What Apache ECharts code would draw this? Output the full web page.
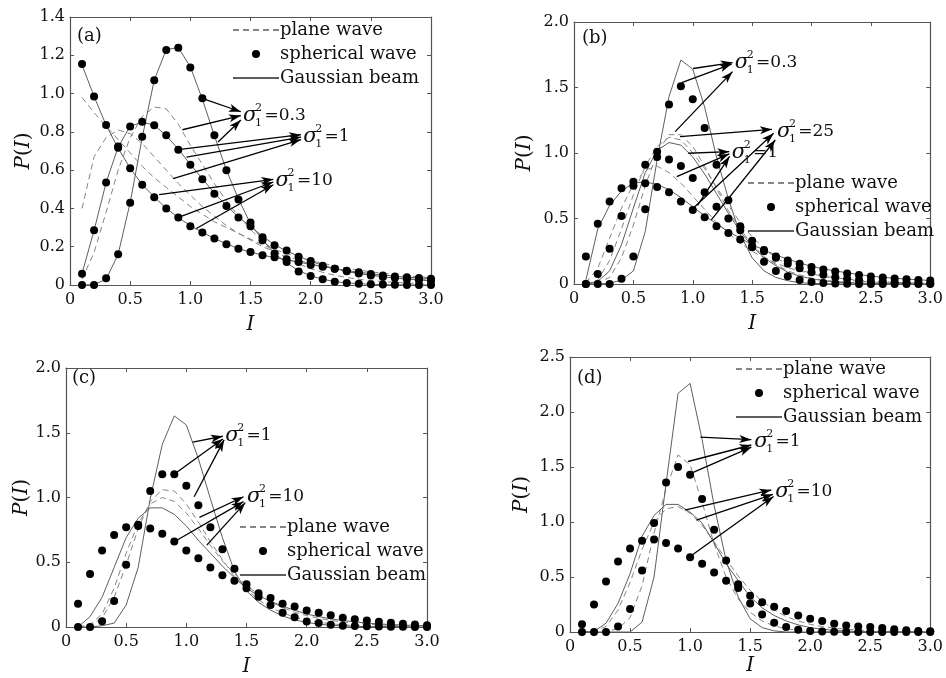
<!DOCTYPE html>
<html><head><meta charset="utf-8">
<script src="https://cdn.jsdelivr.net/npm/echarts@6.0.0/dist/echarts.min.js"></script>
<style>html,body{margin:0;padding:0;background:#fff}#c{width:946px;height:678px}</style>
</head><body><div id="c"></div>
<script>
// ---------- data ----------
const xs = [0.1,0.2,0.3,0.4,0.5,0.6,0.7,0.8,0.9,1.0,1.1,1.2,1.3,1.4,1.5,1.6,1.7,1.8,1.9,2.0,2.1,2.2,2.3,2.4,2.5,2.6,2.7,2.8,2.9,3.0];
const legendNames = ['plane wave','spherical wave','Gaussian beam'];

// (a) sigma^2 = 0.3, 1, 10
const aPlane03 = [0.03,0.17,0.38,0.6,0.77,0.88,0.93,0.92,0.84,0.73,0.63,0.53,0.44,0.36,0.29,0.23,0.18,0.14,0.11,0.085,0.066,0.051,0.039,0.03,0.023,0.018,0.014,0.011,0.008,0.006];
const aPlane1  = [0.40,0.67,0.77,0.81,0.79,0.74,0.67,0.60,0.53,0.47,0.41,0.36,0.31,0.27,0.235,0.2,0.175,0.15,0.13,0.11,0.095,0.082,0.07,0.06,0.052,0.045,0.039,0.033,0.029,0.025];
const aPlane10 = [0.98,0.9,0.83,0.76,0.69,0.62,0.56,0.51,0.46,0.41,0.37,0.33,0.30,0.27,0.24,0.21,0.185,0.165,0.145,0.128,0.113,0.1,0.088,0.078,0.069,0.061,0.054,0.048,0.043,0.038];
const aSph03 = [0,0,0.035,0.16,0.43,0.775,1.07,1.228,1.239,1.136,0.975,0.782,0.60,0.446,0.326,0.234,0.165,0.12,0.07,0.047,0.03,0.017,0.01,0.006,0.004,0.002,0.001,0,0,0];
const aSph1  = [0.059,0.286,0.536,0.723,0.828,0.853,0.834,0.782,0.706,0.628,0.553,0.477,0.413,0.352,0.307,0.25,0.208,0.18,0.148,0.125,0.10,0.085,0.072,0.06,0.05,0.042,0.036,0.03,0.025,0.021];
const aSph10 = [1.154,0.985,0.836,0.717,0.61,0.524,0.458,0.40,0.352,0.307,0.274,0.243,0.213,0.19,0.172,0.155,0.145,0.135,0.12,0.105,0.095,0.085,0.075,0.066,0.058,0.05,0.045,0.04,0.036,0.033];
const aGau03 = [0,0.002,0.03,0.16,0.43,0.77,1.07,1.23,1.24,1.14,0.97,0.78,0.60,0.45,0.32,0.235,0.165,0.115,0.075,0.048,0.03,0.018,0.011,0.007,0.004,0.002,0.001,0.001,0,0];
const aGau1  = [0.06,0.285,0.535,0.72,0.83,0.85,0.835,0.78,0.71,0.63,0.555,0.48,0.415,0.355,0.305,0.255,0.21,0.178,0.15,0.124,0.103,0.086,0.072,0.06,0.051,0.043,0.036,0.031,0.026,0.022];
const aGau10 = [1.15,0.985,0.835,0.715,0.61,0.525,0.46,0.40,0.352,0.31,0.275,0.243,0.215,0.19,0.172,0.156,0.143,0.132,0.12,0.107,0.096,0.086,0.076,0.067,0.059,0.052,0.046,0.041,0.037,0.033];

// (b) sigma^2 = 0.3, 1, 25
const bPlane03 = [0,0.01,0.05,0.2,0.45,0.75,1.0,1.14,1.14,1.05,0.9,0.73,0.56,0.42,0.3,0.21,0.15,0.1,0.07,0.045,0.03,0.02,0.013,0.008,0.005,0.003,0.002,0.001,0,0];
const bPlane1  = [0.01,0.12,0.35,0.58,0.76,0.87,0.9,0.85,0.77,0.67,0.57,0.47,0.39,0.31,0.25,0.2,0.16,0.125,0.1,0.078,0.061,0.048,0.037,0.029,0.022,0.017,0.013,0.01,0.008,0.006];
const bPlane25 = [0,0.03,0.18,0.42,0.68,0.9,1.05,1.12,1.1,1.0,0.88,0.74,0.6,0.47,0.36,0.27,0.2,0.15,0.11,0.08,0.058,0.042,0.03,0.021,0.015,0.011,0.008,0.005,0.004,0.003];
const bSph03 = [0,0,0,0.04,0.21,0.57,1.01,1.37,1.51,1.41,1.19,0.91,0.64,0.44,0.28,0.17,0.1,0.06,0.03,0.015,0.007,0.003,0.001,0,0,0,0,0,0,0];
const bSph1  = [0,0.076,0.27,0.52,0.75,0.91,0.97,0.95,0.9,0.81,0.70,0.59,0.50,0.41,0.33,0.26,0.2,0.155,0.12,0.09,0.07,0.052,0.04,0.03,0.022,0.017,0.013,0.01,0.007,0.005];
const bSph25 = [0.21,0.46,0.63,0.73,0.78,0.77,0.74,0.70,0.63,0.565,0.51,0.44,0.39,0.34,0.29,0.25,0.21,0.18,0.155,0.13,0.11,0.095,0.08,0.068,0.058,0.05,0.042,0.036,0.03,0.026];
const bGau03 = [0,0,0.005,0.03,0.1,0.4,0.95,1.43,1.71,1.64,1.35,0.97,0.65,0.38,0.2,0.1,0.05,0.025,0.01,0.005,0.002,0.001,0,0,0,0,0,0,0,0];
const bGau1  = [0,0.02,0.1,0.3,0.58,0.85,1.02,1.08,1.06,0.97,0.84,0.69,0.54,0.4,0.29,0.2,0.14,0.09,0.06,0.04,0.025,0.016,0.01,0.006,0.004,0.002,0.001,0,0,0];
const bGau25 = [0.03,0.42,0.6,0.71,0.77,0.78,0.76,0.72,0.66,0.59,0.52,0.46,0.40,0.35,0.30,0.26,0.22,0.19,0.16,0.135,0.115,0.1,0.085,0.072,0.06,0.051,0.044,0.037,0.032,0.027];

// (c) sigma^2 = 1, 10
const cPlane1  = [0,0.01,0.07,0.23,0.48,0.76,0.97,1.06,1.05,0.95,0.81,0.66,0.52,0.39,0.29,0.21,0.15,0.11,0.075,0.052,0.036,0.025,0.017,0.012,0.008,0.005,0.004,0.003,0.002,0.001];
const cPlane10 = [0,0.02,0.1,0.3,0.57,0.8,0.95,1.0,0.97,0.88,0.76,0.63,0.51,0.41,0.32,0.25,0.195,0.15,0.115,0.088,0.067,0.051,0.039,0.03,0.023,0.017,0.013,0.01,0.008,0.006];
const cSph1  = [0,0,0.045,0.2,0.48,0.78,1.05,1.18,1.18,1.09,0.94,0.77,0.6,0.45,0.33,0.234,0.17,0.11,0.076,0.043,0.03,0.018,0.01,0.008,0.005,0.003,0.002,0.001,0,0];
const cSph10 = [0.18,0.41,0.59,0.71,0.77,0.79,0.76,0.72,0.66,0.59,0.53,0.46,0.40,0.357,0.30,0.26,0.224,0.18,0.158,0.127,0.11,0.09,0.071,0.059,0.051,0.041,0.033,0.025,0.02,0.013];
const cGau1  = [0,0,0.01,0.03,0.17,0.46,0.99,1.41,1.63,1.56,1.3,0.99,0.69,0.43,0.28,0.19,0.13,0.085,0.055,0.035,0.022,0.013,0.008,0.005,0.003,0.002,0.001,0,0,0];
const cGau10 = [0,0.08,0.23,0.46,0.69,0.84,0.92,0.92,0.87,0.78,0.67,0.57,0.47,0.38,0.30,0.24,0.2,0.16,0.13,0.1,0.08,0.063,0.05,0.04,0.03,0.024,0.019,0.015,0.012,0.01];

// (d) sigma^2 = 1, 10
const dPlane1  = [0,0,0.005,0.03,0.13,0.42,0.9,1.3,1.61,1.52,1.18,0.8,0.5,0.3,0.18,0.1,0.055,0.03,0.015,0.008,0.004,0.002,0.001,0,0,0,0,0,0,0];
const dPlane10 = [0,0.01,0.05,0.2,0.45,0.75,1.0,1.12,1.14,1.08,0.97,0.82,0.66,0.51,0.38,0.28,0.2,0.14,0.1,0.07,0.05,0.035,0.025,0.018,0.012,0.008,0.006,0.004,0.003,0.002];
const dSph1  = [0,0,0,0.05,0.21,0.56,0.99,1.36,1.5,1.43,1.21,0.93,0.65,0.435,0.26,0.16,0.085,0.045,0.02,0.01,0.004,0.002,0.001,0,0,0,0,0,0,0];
const dSph10 = [0.07,0.25,0.46,0.64,0.76,0.83,0.84,0.81,0.76,0.68,0.62,0.54,0.465,0.4,0.33,0.27,0.23,0.19,0.15,0.12,0.1,0.076,0.06,0.05,0.045,0.036,0.025,0.015,0.01,0.006];
const dGau1  = [0,0,0,0,0,0.09,0.5,1.35,2.17,2.26,1.75,1.15,0.65,0.32,0.12,0.04,0.01,0,0,0,0,0,0,0,0,0,0,0,0,0];
const dGau10 = [0,0.005,0.08,0.26,0.53,0.87,1.06,1.16,1.16,1.09,0.99,0.81,0.62,0.47,0.32,0.22,0.15,0.1,0.065,0.04,0.025,0.015,0.008,0.004,0.002,0.001,0,0,0,0];

// ---------- layout / annotations ----------
const SERIF = "'DejaVu Serif', serif";
const panels = [
  { grid:{left:70, top:17, width:361, height:268}, yMax:1.4, yInt:0.2, tag:'(a)', tagPos:[77,27], legendPos:[232,21], yGap:36, xGap:30,
    groups:[[aPlane03,aSph03,aGau03],[aPlane1,aSph1,aGau1],[aPlane10,aSph10,aGau10]],
    notes:[['0.3',1.43,0.885],['1',1.93,0.773],['10',1.70,0.545]],
    arrows:[[1.11,0.972,1.42,0.905],[0.934,0.811,1.42,0.885],[1.23,0.747,1.42,0.862],
            [0.9,0.707,1.92,0.785],[0.968,0.668,1.92,0.773],[0.857,0.556,1.92,0.76],
            [0.741,0.472,1.69,0.552],[0.912,0.356,1.69,0.538],[1.05,0.295,1.69,0.524]] },
  { grid:{left:574, top:22, width:362, height:262}, yMax:2.0, yInt:0.5, tag:'(b)', tagPos:[582,29], legendPos:[747,174], yGap:39, xGap:30,
    groups:[[bPlane03,bSph03,bGau03],[bPlane1,bSph1,bGau1],[bPlane25,bSph25,bGau25]],
    notes:[['0.3',1.345,1.687],['25',1.70,1.163],['1',1.32,1.0]],
    arrows:[[1.003,1.645,1.335,1.69],[0.907,1.537,1.327,1.679],[0.852,1.163,1.335,1.621],
            [0.893,1.125,1.667,1.181],[1.003,0.578,1.681,1.15],[1.156,0.489,1.695,1.099],
            [0.962,0.998,1.308,1.01],[0.865,0.819,1.308,0.994],[1.04,0.6,1.31,0.975]] },
  { grid:{left:66, top:368, width:361, height:262}, yMax:2.0, yInt:0.5, tag:'(c)', tagPos:[72,369], legendPos:[239,518], yGap:33, xGap:30,
    groups:[[cPlane1,cSph1,cGau1],[cPlane10,cSph10,cGau10]],
    notes:[['1',1.315,1.478],['10',1.495,1.006]],
    arrows:[[1.053,1.427,1.303,1.473],[0.907,1.185,1.303,1.452],[1.065,1.006,1.314,1.445],
            [1.109,0.846,1.475,1.006],[0.907,0.662,1.475,0.968],[1.17,0.632,1.49,0.96]] },
  { grid:{left:570, top:357, width:361, height:275}, yMax:2.5, yInt:0.5, tag:'(d)', tagPos:[577,369], legendPos:[735,360], yGap:38, xGap:24,
    groups:[[dPlane1,dSph1,dGau1],[dPlane10,dSph10,dGau10]],
    notes:[['1',1.525,1.732],['10',1.70,1.277]],
    arrows:[[1.086,1.772,1.51,1.748],[0.983,1.55,1.51,1.70],[0.997,1.438,1.51,1.68],
            [0.956,1.109,1.676,1.292],[1.053,1.018,1.69,1.252],[0.997,0.684,1.695,1.231]] }
];

const pair = ys => xs.map((x,i) => [x, ys[i]]);
const axisColor = '#555';
const grid = [], xAxis = [], yAxis = [], series = [], legend = [], title = [];
const legendData = [
  {name:legendNames[0], itemStyle:{opacity:0}},
  {name:legendNames[1]},
  {name:legendNames[2], itemStyle:{opacity:0}}
];

panels.forEach((p, pi) => {
  grid.push(Object.assign({containLabel:false}, p.grid));
  title.push({text:p.tag, left:p.tagPos[0], top:p.tagPos[1], padding:0,
    textStyle:{fontFamily:SERIF, fontSize:18, fontWeight:'normal', color:'#111'}});
  legend.push({left:p.legendPos[0], top:p.legendPos[1], orient:'vertical', padding:0,
    itemWidth:46, itemHeight:8, itemGap:6, selectedMode:false, data:legendData,
    textStyle:{fontFamily:SERIF, fontSize:18, lineHeight:18, color:'#111', padding:[0,0,0,-4]}});
});
panels.forEach((p, pi) => {
  xAxis.push({type:'value', gridIndex:pi, min:0, max:3, interval:0.5, position:'bottom',
    name:'{i|I}', nameLocation:'middle', nameGap:p.xGap,
    nameTextStyle:{rich:{i:{fontFamily:SERIF, fontStyle:'italic', fontSize:20, color:'#111'}}},
    axisLine:{onZero:false, lineStyle:{color:axisColor, width:1.2}},
    axisTick:{inside:true, length:4, lineStyle:{color:axisColor}},
    axisLabel:{margin:7, fontFamily:SERIF, fontSize:16, color:'#111', formatter:v => v===0 ? '0' : v.toFixed(1)},
    splitLine:{show:false}});
  yAxis.push({type:'value', gridIndex:pi, min:0, max:p.yMax, interval:p.yInt, position:'left',
    name:'{i|P}({i|I})', nameLocation:'middle', nameGap:p.yGap,
    nameTextStyle:{fontFamily:SERIF, fontSize:20, color:'#111',
      rich:{i:{fontFamily:SERIF, fontStyle:'italic', fontSize:20, color:'#111'}}},
    axisLine:{onZero:false, lineStyle:{color:axisColor, width:1.2}},
    axisTick:{inside:true, length:4, lineStyle:{color:axisColor}},
    axisLabel:{margin:5, fontFamily:SERIF, fontSize:16, color:'#111', formatter:v => v===0 ? '0' : v.toFixed(1)},
    splitLine:{show:false}});
});
panels.forEach((p, pi) => {
  xAxis.push({type:'value', gridIndex:pi, min:0, max:3, interval:0.5, position:'top',
    axisLine:{onZero:false, lineStyle:{color:axisColor, width:1.2}},
    axisTick:{inside:true, length:4, lineStyle:{color:axisColor}},
    axisLabel:{show:false}, splitLine:{show:false}});
  yAxis.push({type:'value', gridIndex:pi, min:0, max:p.yMax, interval:p.yInt, position:'right',
    axisLine:{onZero:false, lineStyle:{color:axisColor, width:1.2}},
    axisTick:{inside:true, length:4, lineStyle:{color:axisColor}},
    axisLabel:{show:false}, splitLine:{show:false}});
});

const noteRich = {
  sp:{width:12, fontSize:11, lineHeight:3},
  sup:{fontFamily:SERIF, fontSize:11, lineHeight:3, color:'#111'},
  sub:{fontFamily:SERIF, fontSize:11, lineHeight:3, color:'#111'},
  s:{fontFamily:SERIF, fontStyle:'italic', fontSize:21, lineHeight:12, color:'#111'},
  gap:{width:7, fontSize:11, lineHeight:12},
  e:{fontFamily:SERIF, fontSize:17, lineHeight:12, color:'#111'}
};

panels.forEach((p, pi) => {
  p.groups.forEach(g => {
    series.push({name:'plane wave', type:'line', xAxisIndex:pi, yAxisIndex:pi, data:pair(g[0]),
      symbol:'none', silent:true, z:2, itemStyle:{color:'#858585'}, lineStyle:{color:'#858585', width:1, type:[6,4]}});
    series.push({name:'Gaussian beam', type:'line', xAxisIndex:pi, yAxisIndex:pi, data:pair(g[2]),
      symbol:'none', silent:true, z:2, itemStyle:{color:'#5e5e5e'}, lineStyle:{color:'#5e5e5e', width:1}});
    series.push({name:'spherical wave', type:'scatter', xAxisIndex:pi, yAxisIndex:pi, data:pair(g[1]),
      symbol:'circle', symbolSize:8, silent:true, z:3, itemStyle:{color:'#000', opacity:1}});
  });
  series.push({name:'notes'+pi, type:'scatter', xAxisIndex:pi, yAxisIndex:pi, data:[], silent:true, z:5,
    markLine:{silent:true, symbol:['none','arrow'], symbolSize:[6,12], animation:false,
      lineStyle:{color:'#000', width:1.3, type:'solid'}, label:{show:false}, emphasis:{disabled:true},
      data:p.arrows.map(a => [{coord:[a[0],a[1]]},{coord:[a[2],a[3]]}])},
    markPoint:{silent:true, symbol:'circle', symbolSize:0, animation:false,
      label:{show:true, position:'right', distance:1, offset:[0,0], rich:noteRich,
        formatter: prm => '{sp| }{sup|2}\n{s|σ}{gap| }{e|=' + prm.name + '}\n{sp| }{sub|1}'},
      data:p.notes.map(n => ({name:n[0], coord:[n[1], n[2]]}))}
  });
});

const chart = echarts.init(document.getElementById('c'), null, {renderer:'canvas'});
chart.setOption({animation:false, backgroundColor:'#fff', title, grid, xAxis, yAxis, legend, series});
</script></body></html>
